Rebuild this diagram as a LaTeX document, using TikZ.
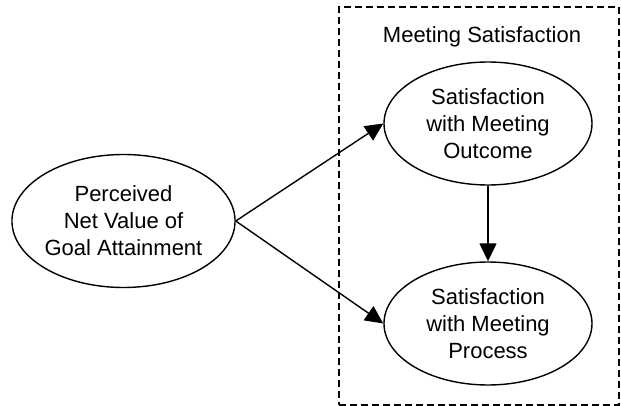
\documentclass[tikz,border=0pt]{standalone}
\usepackage{fontspec}
\setmainfont{Liberation Sans}
\usetikzlibrary{shapes.geometric,arrows.meta}
\begin{document}
\begin{tikzpicture}[x=1pt, y=-1pt, line width=1.4pt, >={Triangle[length=18pt,width=17pt]},
main node/.style={ellipse,draw,minimum width=208pt,minimum height=123pt,inner sep=0pt,align=center,font=\fontsize{22}{27}\selectfont}]
\useasboundingbox (0,0) rectangle (621,406);
\begin{scope}
\node[draw, dash pattern=on 7pt off 4pt, minimum width=280pt, minimum height=398pt, inner sep=0pt] (box) at (479,206) {};
\node[font=\fontsize{22}{27}\selectfont] (title) at (482,37) {Meeting Satisfaction};
\end{scope}
\begin{scope}
\node[main node, minimum width=223pt, minimum height=133pt] (goal) at (123.5,221) {Perceived\\Net Value of\\Goal Attainment};
\node[main node] (outcome) at (488,123.5) {Satisfaction\\with Meeting\\Outcome};
\node[main node] (process) at (488,323.5) {Satisfaction\\with Meeting\\Process};
\end{scope}
\begin{scope}
\draw[->] (goal.east) -- (outcome.west);
\draw[->] (goal.east) -- (process.west);
\draw[->] (outcome) -- (process);
\end{scope}
\end{tikzpicture}
\end{document}
